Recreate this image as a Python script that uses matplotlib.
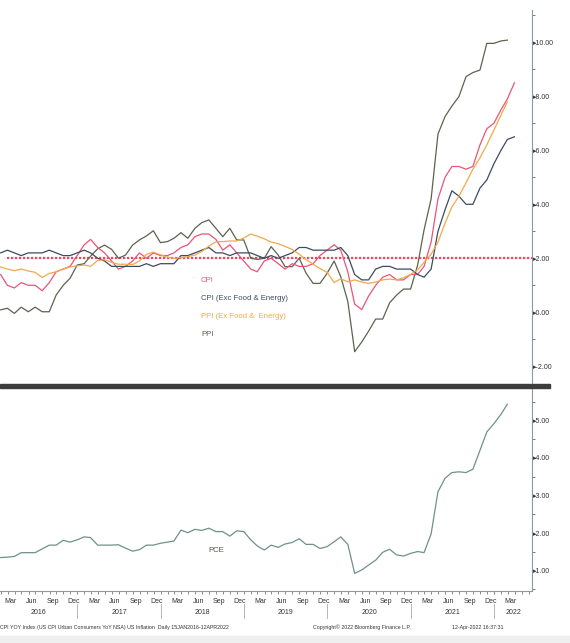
import numpy as np
import pandas as pd
import matplotlib
matplotlib.use('Agg')
import matplotlib.pyplot as plt
import matplotlib.dates as mdates
import matplotlib.transforms as mtransforms
from matplotlib.ticker import FixedLocator, FuncFormatter, MultipleLocator
from matplotlib.patches import Rectangle

plt.rcParams['font.family'] = ['Liberation Sans Narrow', 'Liberation Sans', 'DejaVu Sans']

W, H = 570, 643

# monthly YoY %, Jan 2016 .. Mar 2022 (points sit at month end)
cpi = [1.4, 1.0, 0.9, 1.1, 1.0, 1.0, 0.8, 1.1, 1.5, 1.6, 1.7, 2.1,
       2.5, 2.7, 2.4, 2.2, 1.9, 1.6, 1.7, 1.9, 2.2, 2.0, 2.2, 2.1,
       2.1, 2.2, 2.4, 2.5, 2.8, 2.9, 2.9, 2.7, 2.3, 2.5, 2.2, 1.9,
       1.6, 1.5, 1.9, 2.0, 1.8, 1.6, 1.8, 1.7, 1.7, 1.8, 2.1, 2.3,
       2.5, 2.3, 1.5, 0.3, 0.1, 0.6, 1.0, 1.3, 1.4, 1.2, 1.2, 1.4,
       1.4, 1.7, 2.6, 4.2, 5.0, 5.4, 5.4, 5.3, 5.4, 6.2, 6.8, 7.0,
       7.5, 7.9, 8.5]
cpi_core = [2.2, 2.3, 2.2, 2.1, 2.2, 2.2, 2.2, 2.3, 2.2, 2.1, 2.1, 2.2,
            2.3, 2.2, 2.0, 1.9, 1.7, 1.7, 1.7, 1.7, 1.7, 1.8, 1.7, 1.8,
            1.8, 1.8, 2.1, 2.1, 2.2, 2.3, 2.4, 2.2, 2.2, 2.1, 2.2, 2.2,
            2.2, 2.1, 2.0, 2.1, 2.0, 2.1, 2.2, 2.4, 2.4, 2.3, 2.3, 2.3,
            2.3, 2.4, 2.1, 1.4, 1.2, 1.2, 1.6, 1.7, 1.7, 1.6, 1.6, 1.6,
            1.4, 1.3, 1.6, 3.0, 3.8, 4.5, 4.3, 4.0, 4.0, 4.6, 4.9, 5.5,
            6.0, 6.4, 6.5]
# Jan 2016 .. Feb 2022
ppi_core = [1.68, 1.6, 1.54, 1.6, 1.53, 1.48, 1.29, 1.44, 1.5, 1.6, 1.68, 1.72,
            1.75, 1.7, 1.92, 1.95, 1.85, 1.78, 1.78, 1.77, 1.9, 2.15, 2.23, 2.13,
            2.04, 2.0, 2.03, 2.06, 2.12, 2.25, 2.45, 2.61, 2.62, 2.64, 2.64, 2.75,
            2.9, 2.82, 2.72, 2.6, 2.54, 2.44, 2.33, 2.15, 1.95, 1.78, 1.62, 1.48,
            1.1, 1.24, 1.13, 1.2, 1.12, 1.07, 1.12, 1.2, 1.23, 1.2, 1.28, 1.4,
            1.58, 1.85, 2.15, 2.6, 3.3, 3.9, 4.3, 4.8, 5.3, 5.72, 6.2, 6.75,
            7.3, 7.8]
ppi = [0.09, 0.15, -0.04, 0.19, 0.02, 0.19, 0.02, 0.02, 0.64, 1.0, 1.26, 1.75,
       1.8, 2.08, 2.35, 2.49, 2.33, 2.0, 2.12, 2.49, 2.68, 2.83, 3.02, 2.58,
       2.62, 2.74, 2.95, 2.74, 3.11, 3.32, 3.42, 3.11, 2.80, 3.11, 2.68, 2.68,
       2.0, 1.96, 2.0, 2.43, 2.12, 1.69, 1.69, 2.0, 1.45, 1.07, 1.07, 1.44,
       1.9, 1.32, 0.4, -1.46, -1.1, -0.7, -0.25, -0.25, 0.35, 0.64, 0.86, 0.86,
       1.75, 3.05, 4.2, 6.6, 7.25, 7.64, 7.99, 8.73, 8.88, 8.97, 9.96, 9.96,
       10.05, 10.08]
pce = [1.35, 1.36, 1.38, 1.48, 1.48, 1.48, 1.58, 1.68, 1.68, 1.81, 1.76, 1.82,
       1.90, 1.88, 1.68, 1.68, 1.68, 1.69, 1.60, 1.52, 1.56, 1.68, 1.68, 1.73,
       1.76, 1.79, 2.08, 2.01, 2.10, 2.07, 2.13, 2.04, 2.04, 1.92, 2.06, 2.04,
       1.82, 1.66, 1.55, 1.68, 1.62, 1.71, 1.75, 1.85, 1.70, 1.70, 1.59, 1.64,
       1.77, 1.90, 1.70, 0.93, 1.02, 1.15, 1.28, 1.49, 1.57, 1.42, 1.39, 1.46,
       1.51, 1.48, 1.98, 3.10, 3.46, 3.61, 3.63, 3.61, 3.70, 4.20, 4.69, 4.91,
       5.16, 5.43]

months = pd.date_range('2016-02-01', periods=len(cpi), freq='MS') - pd.Timedelta(days=1)

c_cpi = '#ea5478'
c_core = '#3c4b62'
c_ppic = '#f4a84a'
c_ppi = '#5a644e'
c_pce = '#6f918a'
c_spine = '#8c98a8'

fig = plt.figure(figsize=(W / 100, H / 100), dpi=100)
fig.patch.set_facecolor('white')

def fx(px):
    return px / W

def fy(py):
    return 1 - py / H

ax = fig.add_axes([0, fy(384), fx(532), fy(10) - fy(384)])
ax2 = fig.add_axes([0, fy(591), fx(532), fy(387) - fy(591)])

xmin, xmax = pd.Timestamp('2016-01-28'), pd.Timestamp('2022-06-16')

# top panel
ax.axhline(2.0, xmin=7 / 532, color='#ff3d5f', lw=1.6, ls=(0, (1, 0.8)), zorder=1)
ax.plot(months, cpi, color=c_cpi, lw=0.9, zorder=3)
ax.plot(months, cpi_core, color=c_core, lw=0.9, zorder=3)
ax.plot(months[:len(ppi_core)], ppi_core, color=c_ppic, lw=0.9, zorder=3)
ax.plot(months[:len(ppi)], ppi, color=c_ppi, lw=0.9, zorder=2)
ax.set_xlim(xmin, xmax)
ax.set_ylim(-2.656, 11.196)
ax.set_xticks([])

# bottom panel
ax2.plot(months[:len(pce)], pce, color=c_pce, lw=0.9)
ax2.set_xlim(xmin, xmax)
ax2.set_ylim(0.46, 5.886)

fmt = FuncFormatter(lambda v, p: '\u25b8' + f'{v:.2f}')
for a, major, minor in [(ax, 2, 1), (ax2, 1, 0.5)]:
    a.set_facecolor('none')
    for s in ['top', 'left']:
        a.spines[s].set_visible(False)
    a.spines['right'].set_color(c_spine)
    a.spines['right'].set_linewidth(0.8)
    a.yaxis.tick_right()
    a.yaxis.set_major_locator(MultipleLocator(major))
    a.yaxis.set_minor_locator(MultipleLocator(minor))
    a.yaxis.set_major_formatter(fmt)
    a.tick_params(axis='y', which='major', length=0, pad=0.5, labelsize=5.0, labelcolor='#333333')
    a.tick_params(axis='y', which='minor', length=2, width=0.6, color='#666666')
ax.spines['bottom'].set_visible(False)
ax2.spines['bottom'].set_color(c_spine)
ax2.spines['bottom'].set_linewidth(0.8)

# x axis: month labels at mid month, monthly minor ticks
qticks = [pd.Timestamp(y, m, 15) for y in range(2016, 2023) for m in (3, 6, 9, 12)
          if pd.Timestamp(y, m, 15) <= pd.Timestamp('2022-03-15')]
ax2.xaxis.set_major_locator(FixedLocator(mdates.date2num(qticks)))
ax2.xaxis.set_major_formatter(FuncFormatter(lambda v, p: mdates.num2date(v).strftime('%b')))
ax2.xaxis.set_minor_locator(mdates.MonthLocator())
ax2.tick_params(axis='x', which='major', length=0, pad=5, labelsize=5.0, labelcolor='#333333')
ax2.tick_params(axis='x', which='minor', length=2, width=0.6, color='#777777')

blend = mtransforms.blended_transform_factory(ax2.transData, fig.transFigure)
for yr in range(2016, 2023):
    lo = max(pd.Timestamp(yr, 1, 1), xmin)
    hi = min(pd.Timestamp(yr + 1, 1, 1), xmax)
    mid = lo + (hi - lo) / 2
    ax2.text(mid, fy(613), str(yr), transform=blend, ha='center', va='center',
             fontsize=5.0, color='#333333', clip_on=False)
    if yr > 2016:
        ax2.plot([pd.Timestamp(yr, 1, 1)] * 2, [fy(604), fy(618)], transform=blend,
                 color='#aaaaaa', lw=0.6, clip_on=False)

# legend as coloured text
legend = [('CPI', c_cpi, 280), ('CPI (Exc Food & Energy)', c_core, 298),
          ('PPI (Ex Food &  Energy)', c_ppic, 317), ('PPI', c_ppi, 335)]
for txt, col, py in legend:
    fig.text(fx(201), fy(py), txt, color=col, fontsize=5.6, va='center', ha='left')
fig.text(fx(208), fy(550), 'PCE', color='#4f5a48', fontsize=5.6, va='center', ha='left')

# separator bar between panels
fig.patches.append(Rectangle((0, fy(387.5)), fx(550), fy(384) - fy(387.5),
                             transform=fig.transFigure, color='#3d3d3d', zorder=5))

# footer
fig.patches.append(Rectangle((0, 0), 1, fy(636), transform=fig.transFigure,
                             color='#efefef', zorder=0))
fig.text(fx(0), fy(627), 'CPI YOY Index (US CPI Urban Consumers YoY NSA) US Inflation  Daily 15JAN2016-12APR2022',
         fontsize=3.8, color='#333333', va='center', ha='left')
fig.text(fx(362), fy(627), 'Copyright\u00a9 2022 Bloomberg Finance L.P.',
         fontsize=3.8, color='#333333', va='center', ha='center')
fig.text(fx(503), fy(627), '12-Apr-2022 16:37:31',
         fontsize=3.8, color='#333333', va='center', ha='right')

fig.savefig('out.png', dpi=100)
